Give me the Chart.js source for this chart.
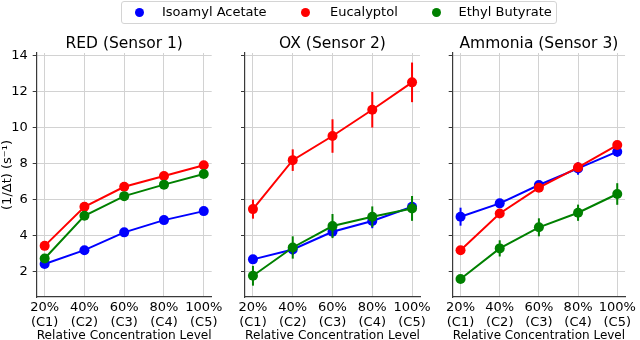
<!DOCTYPE html>
<html><head><meta charset="utf-8">
<script src="https://cdn.jsdelivr.net/npm/chart.js@4.4.0/dist/chart.umd.min.js"></script>
<style>
html,body{margin:0;padding:0;background:#fff;}
#wrap{position:relative;width:640px;height:340px;overflow:hidden;font-family:'DejaVu Sans',sans-serif;}
canvas{position:absolute;left:0;top:0;}
#legendBox{position:absolute;left:120.5px;top:0.5px;width:436px;height:23px;border:1px solid #d4d4d4;border-radius:3px;box-sizing:border-box;background:#fff;}
.lt{position:absolute;top:0.5px;height:22px;line-height:22px;font-size:13px;color:#000;white-space:nowrap;}
.ld{position:absolute;width:9px;height:9px;border-radius:50%;}
</style></head>
<body><div id="wrap">
<canvas id="c1" width="640" height="340"></canvas>
<canvas id="c2" width="640" height="340"></canvas>
<canvas id="c3" width="640" height="340"></canvas>
<div id="legendBox"></div>
</div>
<script>
// ---- data ----
const categories = ['20%', '40%', '60%', '80%', '100%'];
const levels = ['(C1)', '(C2)', '(C3)', '(C4)', '(C5)'];
const yTicks = [2, 4, 6, 8, 10, 12, 14];
const seriesNames = ['Isoamyl Acetate', 'Eucalyptol', 'Ethyl Butyrate'];
const seriesColors = ['#0000ff', '#ff0000', '#008000'];
const panelTitles = ['RED (Sensor 1)', 'OX (Sensor 2)', 'Ammonia (Sensor 3)'];

// RED (Sensor 1)
const redIso = [2.43, 3.20, 4.19, 4.87, 5.37];
const redIsoErr = [0.08, 0.10, 0.10, 0.12, 0.12];
const redEuc = [3.44, 5.61, 6.72, 7.32, 7.92];
const redEucErr = [0.12, 0.15, 0.12, 0.12, 0.15];
const redEth = [2.74, 5.11, 6.20, 6.84, 7.43];
const redEthErr = [0.10, 0.12, 0.10, 0.10, 0.10];

// OX (Sensor 2)
const oxIso = [2.69, 3.24, 4.22, 4.82, 5.61];
const oxIsoErr = [0.15, 0.30, 0.25, 0.40, 0.30];
const oxEuc = [5.48, 8.20, 9.54, 11.00, 12.52];
const oxEucErr = [0.53, 0.60, 0.93, 0.99, 1.10];
const oxEth = [1.78, 3.35, 4.54, 5.06, 5.52];
const oxEthErr = [0.55, 0.62, 0.67, 0.57, 0.69];

// Ammonia (Sensor 3)
const amIso = [5.06, 5.80, 6.82, 7.74, 8.67];
const amIsoErr = [0.50, 0.20, 0.20, 0.35, 0.28];
const amEuc = [3.20, 5.24, 6.67, 7.80, 9.04];
const amEucErr = [0.15, 0.12, 0.12, 0.15, 0.15];
const amEth = [1.60, 3.30, 4.47, 5.28, 6.32];
const amEthErr = [0.12, 0.45, 0.50, 0.45, 0.60];

// ---- legend (HTML) ----
const wrap = document.getElementById('wrap');
const dotX = [139, 305.5, 436];
const textX = [162, 330, 458.5];
seriesNames.forEach((n, i) => {
  const d = document.createElement('div');
  d.className = 'ld';
  d.style.left = (dotX[i] - 4.5) + 'px';
  d.style.top = (12.5 - 4.5) + 'px';
  d.style.background = seriesColors[i];
  wrap.appendChild(d);
  const t = document.createElement('div');
  t.className = 'lt';
  t.style.left = textX[i] + 'px';
  t.textContent = n;
  wrap.appendChild(t);
});

// ---- chart ----
Chart.defaults.font.family = "'DejaVu Sans', sans-serif";
Chart.defaults.color = '#000';

const errorBars = {
  id: 'errorBars',
  afterDatasetDraw(chart, args) {
    const ds = chart.data.datasets[args.index];
    if (!ds.errors) return;
    const ctx = chart.ctx, xs = chart.scales.x, ys = chart.scales.y;
    ctx.save();
    ctx.strokeStyle = ds.borderColor;
    ctx.lineWidth = 2;
    ds.data.forEach((p, i) => {
      const e = ds.errors[i];
      const px = xs.getPixelForValue(p.x);
      ctx.beginPath();
      ctx.moveTo(px, ys.getPixelForValue(p.y - e));
      ctx.lineTo(px, ys.getPixelForValue(p.y + e));
      ctx.stroke();
    });
    ctx.restore();
  }
};

function makeDs(i, vals, errs) {
  return {
    label: seriesNames[i],
    data: vals.map((v, k) => ({x: k, y: v})),
    errors: errs,
    borderColor: seriesColors[i],
    backgroundColor: seriesColors[i],
    pointBackgroundColor: seriesColors[i],
    pointBorderColor: seriesColors[i],
    pointRadius: 5,
    pointBorderWidth: 0,
    pointHoverRadius: 5,
    borderWidth: 2,
    tension: 0,
    order: 3 - i
  };
}

function makePanel(id, title, sets, left, right, showY) {
  const yw = showY ? left : 4;
  new Chart(document.getElementById(id), {
    type: 'line',
    data: {datasets: sets},
    options: {
      responsive: false,
      animation: false,
      events: [],
      layout: {padding: {left: left - yw, right: 640 - right, top: 34.4, bottom: 0}},
      plugins: {
        legend: {display: false},
        tooltip: {enabled: false},
        title: {display: true, text: title, fullSize: false, color: '#000',
          font: {size: 15.5, weight: 'normal', lineHeight: 1.2}, padding: {top: 0, bottom: 0}}
      },
      scales: {
        x: {
          type: 'linear', min: -0.2, max: 4.2,
          afterBuildTicks: s => { s.ticks = categories.map((c, k) => ({value: k})); },
          afterFit: s => { s.height = 43; },
          ticks: {callback: (v, k) => [categories[k], levels[k]], autoSkip: false, maxRotation: 0,
            font: {size: 13, lineHeight: 1.15}, padding: 3.5, color: '#000'},
          grid: {color: '#d2d2d2', lineWidth: 1, drawTicks: false},
          border: {display: true, color: '#3a3a3a', width: 1.2},
          title: {display: true, text: 'Relative Concentration Level', color: '#000',
            font: {size: 13, lineHeight: 1}, padding: {top: 0, bottom: -2}}
        },
        y: {
          type: 'linear', min: 0.6, max: 14.15,
          afterBuildTicks: s => { s.ticks = yTicks.map(v => ({value: v})); },
          afterFit: s => { s.width = yw; },
          ticks: {display: showY, padding: 5, font: {size: 13}, color: '#000'},
          grid: {color: '#d2d2d2', lineWidth: 1, drawTicks: true, tickLength: 4, tickColor: '#3a3a3a'},
          border: {display: true, color: '#3a3a3a', width: 1.2},
          title: {display: showY, text: '(1/Δt) (s⁻¹)', color: '#000',
            font: {size: 13, lineHeight: 1.2}, padding: {top: 0, bottom: 0}}
        }
      }
    },
    plugins: [errorBars]
  });
}

makePanel('c1', panelTitles[0], [makeDs(0, redIso, redIsoErr), makeDs(1, redEuc, redEucErr), makeDs(2, redEth, redEthErr)], 36.7, 211.7, true);
makePanel('c2', panelTitles[1], [makeDs(0, oxIso, oxIsoErr), makeDs(1, oxEuc, oxEucErr), makeDs(2, oxEth, oxEthErr)], 245, 420, false);
makePanel('c3', panelTitles[2], [makeDs(0, amIso, amIsoErr), makeDs(1, amEuc, amEucErr), makeDs(2, amEth, amEthErr)], 452.7, 629, false);
</script>
</body></html>
